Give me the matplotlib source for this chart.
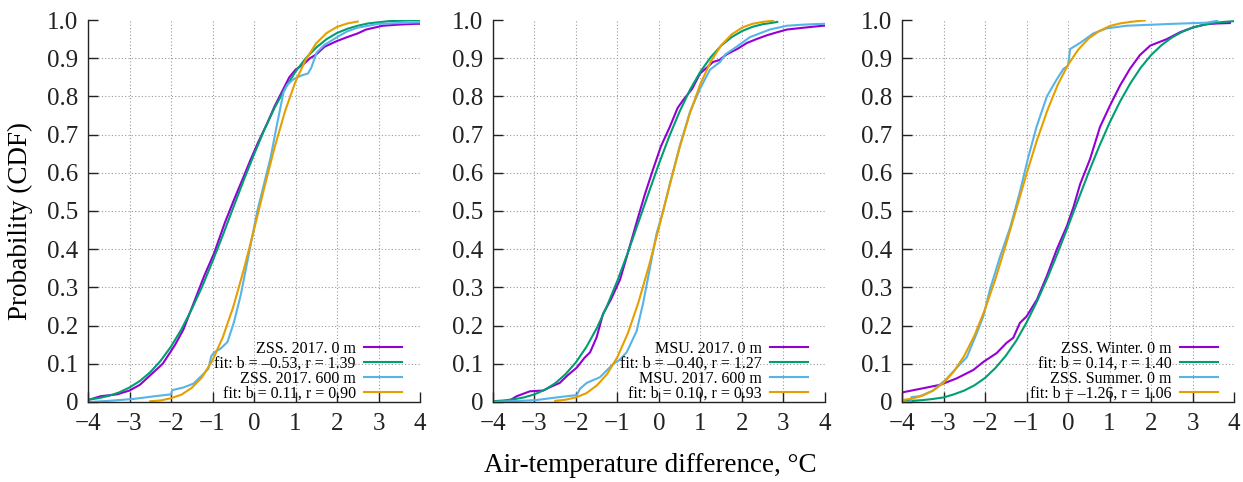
import matplotlib
matplotlib.use("Agg")
import matplotlib.pyplot as plt

plt.rcParams['font.family'] = ['Liberation Serif', 'DejaVu Serif']

# colours (gnuplot default palette)
c_purple = '#9400D3'
c_green = '#009E73'
c_blue = '#56B4E9'
c_orange = '#E69F00'

# ---------- panel 1: ZSS 2017 ----------
p1_obs0_x = [-4.0, -3.7, -3.3, -3.0, -2.75, -2.5, -2.2, -1.9, -1.7, -1.45, -1.2, -0.96, -0.7, -0.48,
             -0.25, -0.08, 0.1, 0.32, 0.5, 0.71, 0.85, 1.0, 1.2, 1.35, 1.5, 1.7, 2.0, 2.24, 2.5, 2.7,
             3.1, 3.5, 3.9, 4.0]
p1_obs0_y = [0.005, 0.015, 0.02, 0.03, 0.045, 0.07, 0.1, 0.15, 0.19, 0.26, 0.33, 0.39, 0.47, 0.53,
             0.59, 0.635, 0.68, 0.73, 0.775, 0.82, 0.85, 0.87, 0.885, 0.9, 0.91, 0.93, 0.945, 0.955,
             0.965, 0.975, 0.985, 0.988, 0.99, 0.99]
p1_fit0_x = [-4.0, -3.75, -3.5, -3.25, -3.0, -2.75, -2.5, -2.25, -2.0, -1.75, -1.5, -1.25, -1.0, -0.75,
             -0.5, -0.25, 0.0, 0.25, 0.5, 0.75, 1.0, 1.25, 1.5, 1.75, 2.0, 2.25, 2.5, 2.75, 3.0, 3.25,
             3.5, 3.75, 4.0]
p1_fit0_y = [0.006, 0.010, 0.016, 0.025, 0.038, 0.055, 0.078, 0.108, 0.145, 0.190, 0.243, 0.302, 0.368,
             0.437, 0.509, 0.580, 0.648, 0.713, 0.771, 0.821, 0.865, 0.900, 0.928, 0.950, 0.966, 0.977,
             0.985, 0.991, 0.994, 0.997, 0.998, 0.999, 0.999]
p1_obs6_x = [-4.0, -3.5, -2.9, -2.4, -2.0, -1.97, -1.7, -1.46, -1.25, -1.1, -1.03, -0.96, -0.8, -0.64,
             -0.48, -0.32, -0.12, 0.08, 0.24, 0.4, 0.56, 0.71, 0.8, 0.95, 1.15, 1.3, 1.38, 1.51, 1.7,
             2.0, 2.24, 2.5, 3.0, 3.5, 4.0]
p1_obs6_y = [0.0, 0.003, 0.008, 0.015, 0.02, 0.031, 0.038, 0.048, 0.07, 0.087, 0.12, 0.13, 0.14, 0.157,
             0.21, 0.28, 0.39, 0.5, 0.57, 0.64, 0.73, 0.81, 0.83, 0.845, 0.855, 0.86, 0.875, 0.915,
             0.935, 0.955, 0.97, 0.98, 0.99, 0.992, 0.994]
p1_fit6_x = [-2.5, -2.25, -2.0, -1.75, -1.5, -1.25, -1.0, -0.75, -0.5, -0.25, 0.0, 0.25, 0.5, 0.75,
             1.0, 1.25, 1.5, 1.75, 2.0, 2.25, 2.5]
p1_fit6_y = [0.002, 0.004, 0.010, 0.019, 0.037, 0.065, 0.109, 0.170, 0.249, 0.345, 0.451, 0.562,
             0.668, 0.762, 0.839, 0.897, 0.939, 0.966, 0.982, 0.991, 0.996]

# ---------- panel 2: MSU 2017 ----------
p2_obs0_x = [-3.66, -3.43, -3.11, -2.79, -2.6, -2.39, -2.2, -1.98, -1.8, -1.66, -1.5, -1.35, -1.15,
             -0.94, -0.75, -0.54, -0.35, -0.14, 0.05, 0.26, 0.45, 0.58, 0.8, 0.99, 1.15, 1.3, 1.45,
             1.63, 1.9, 2.12, 2.35, 2.6, 2.85, 3.08, 3.5, 3.95, 4.0]
p2_obs0_y = [0.0, 0.015, 0.028, 0.03, 0.04, 0.05, 0.07, 0.09, 0.115, 0.13, 0.17, 0.23, 0.27,
             0.32, 0.39, 0.47, 0.54, 0.61, 0.67, 0.72, 0.77, 0.79, 0.82, 0.86, 0.875, 0.89, 0.895,
             0.91, 0.925, 0.94, 0.95, 0.96, 0.968, 0.975, 0.98, 0.985, 0.985]
p2_fit0_x = [-4.0, -3.75, -3.5, -3.25, -3.0, -2.75, -2.5, -2.25, -2.0, -1.75, -1.5, -1.25, -1.0, -0.75,
             -0.5, -0.25, 0.0, 0.25, 0.5, 0.75, 1.0, 1.25, 1.5, 1.75, 2.0, 2.25, 2.5, 2.75, 2.85]
p2_fit0_y = [0.002, 0.004, 0.007, 0.012, 0.020, 0.032, 0.049, 0.073, 0.104, 0.144, 0.193, 0.252, 0.318,
             0.391, 0.469, 0.547, 0.624, 0.696, 0.761, 0.818, 0.865, 0.903, 0.933, 0.955, 0.971, 0.982,
             0.989, 0.993, 0.995]
p2_obs6_x = [-4.0, -2.96, -2.39, -1.98, -1.9, -1.74, -1.42, -1.1, -0.95, -0.78, -0.54, -0.38, -0.22,
             -0.06, 0.1, 0.26, 0.5, 0.75, 0.99, 1.23, 1.47, 1.6, 1.87, 2.19, 2.67, 3.08, 3.5, 3.95, 4.0]
p2_obs6_y = [0.0, 0.005, 0.013, 0.018, 0.035, 0.05, 0.065, 0.1, 0.11, 0.13, 0.185, 0.26, 0.35,
             0.44, 0.5, 0.57, 0.67, 0.76, 0.82, 0.87, 0.89, 0.91, 0.93, 0.955, 0.975, 0.985, 0.988,
             0.99, 0.99]
p2_fit6_x = [-2.5, -2.25, -2.0, -1.75, -1.5, -1.25, -1.0, -0.75, -0.5, -0.25, 0.0, 0.25, 0.5, 0.75,
             1.0, 1.25, 1.5, 1.75, 2.0, 2.25, 2.5, 2.75]
p2_fit6_y = [0.003, 0.006, 0.012, 0.023, 0.043, 0.073, 0.118, 0.180, 0.259, 0.353, 0.457, 0.564,
             0.667, 0.758, 0.833, 0.892, 0.934, 0.962, 0.980, 0.990, 0.995, 0.998]

# ---------- panel 3: ZSS winter / summer ----------
p3_obs0_x = [-4.0, -3.49, -3.08, -2.68, -2.28, -2.04, -1.72, -1.48, -1.32, -1.16, -1.0, -0.75, -0.51,
             -0.27, -0.03, 0.13, 0.29, 0.53, 0.77, 1.01, 1.25, 1.49, 1.73, 1.98, 2.38, 2.7, 3.02,
             3.34, 3.6, 3.9]
p3_obs0_y = [0.025, 0.036, 0.045, 0.062, 0.084, 0.105, 0.128, 0.155, 0.168, 0.207, 0.224, 0.268,
             0.33, 0.4, 0.46, 0.51, 0.57, 0.636, 0.72, 0.776, 0.828, 0.872, 0.908, 0.933, 0.95,
             0.968, 0.981, 0.989, 0.991, 0.992]
p3_fit0_x = [-4.0, -3.75, -3.5, -3.25, -3.0, -2.75, -2.5, -2.25, -2.0, -1.75, -1.5, -1.25, -1.0, -0.75,
             -0.5, -0.25, 0.0, 0.25, 0.5, 0.75, 1.0, 1.25, 1.5, 1.75, 2.0, 2.25, 2.5, 2.75, 3.0, 3.25,
             3.5, 3.75, 4.0]
p3_fit0_y = [0.002, 0.003, 0.005, 0.008, 0.012, 0.020, 0.030, 0.044, 0.063, 0.089, 0.121, 0.160, 0.208,
             0.263, 0.324, 0.390, 0.460, 0.531, 0.602, 0.669, 0.731, 0.786, 0.834, 0.875, 0.908, 0.934,
             0.954, 0.969, 0.980, 0.987, 0.992, 0.995, 0.997]
p3_obsS_x = [-4.0, -3.8, -3.77, -3.57, -3.25, -2.93, -2.68, -2.44, -2.2, -2.04, -1.88, -1.64, -1.4,
             -1.16, -0.96, -0.76, -0.51, -0.27, -0.11, 0.0, 0.05, 0.29, 0.61, 0.93, 1.41, 2.53, 3.34,
             3.6]
p3_obsS_y = [0.0, 0.0, 0.013, 0.015, 0.03, 0.06, 0.09, 0.117, 0.18, 0.225, 0.295, 0.38, 0.455,
             0.55, 0.64, 0.72, 0.8, 0.845, 0.872, 0.88, 0.924, 0.94, 0.965, 0.978, 0.985, 0.99, 0.993,
             0.998]
p3_fitS_x = [-4.0, -3.75, -3.5, -3.25, -3.0, -2.75, -2.5, -2.25, -2.0, -1.75, -1.5, -1.25, -1.0, -0.75,
             -0.5, -0.25, 0.0, 0.25, 0.5, 0.75, 1.0, 1.25, 1.5, 1.75, 1.85]
p3_fitS_y = [0.005, 0.009, 0.017, 0.030, 0.050, 0.080, 0.121, 0.175, 0.243, 0.322, 0.411, 0.504, 0.597,
             0.685, 0.763, 0.830, 0.883, 0.923, 0.952, 0.971, 0.984, 0.991, 0.995, 0.998, 0.999]

labels1 = ['ZSS. 2017. 0 m', 'fit: b = \u20130.53, r = 1.39', 'ZSS. 2017. 600 m', 'fit: b = 0.11, r = 0.90']
labels2 = ['MSU. 2017. 0 m', 'fit: b = \u20130.40, r = 1.27', 'MSU. 2017. 600 m', 'fit: b = 0.10, r = 0.93']
labels3 = ['ZSS. Winter. 0 m', 'fit: b = 0.14, r = 1.40', 'ZSS. Summer. 0 m', 'fit: b = \u20131.26, r = 1.06']

xticks = [-4, -3, -2, -1, 0, 1, 2, 3, 4]
xticklabels = ['\u22124', '\u22123', '\u22122', '\u22121', '0', '1', '2', '3', '4']
yticks = [0, 0.1, 0.2, 0.3, 0.4, 0.5, 0.6, 0.7, 0.8, 0.9, 1.0]
yticklabels = ['0', '0.1', '0.2', '0.3', '0.4', '0.5', '0.6', '0.7', '0.8', '0.9', '1.0']

panels = [
    (p1_obs0_x, p1_obs0_y, p1_fit0_x, p1_fit0_y, p1_obs6_x, p1_obs6_y, p1_fit6_x, p1_fit6_y, labels1),
    (p2_obs0_x, p2_obs0_y, p2_fit0_x, p2_fit0_y, p2_obs6_x, p2_obs6_y, p2_fit6_x, p2_fit6_y, labels2),
    (p3_obs0_x, p3_obs0_y, p3_fit0_x, p3_fit0_y, p3_obsS_x, p3_obsS_y, p3_fitS_x, p3_fitS_y, labels3),
]

fig = plt.figure(figsize=(12.43, 4.82), dpi=100)
lefts = [0.0708, 0.3966, 0.7257]
legend_x = [0.946, 0.949, 0.952]

for i, p in enumerate(panels):
    ax = fig.add_axes([lefts[i], 0.166, 0.2671, 0.7925])
    lw = 1.5
    ax.plot(p[0], p[1], color=c_purple, lw=lw, label=p[8][0])
    ax.plot(p[2], p[3], color=c_green, lw=lw, label=p[8][1])
    ax.plot(p[4], p[5], color=c_blue, lw=lw, label=p[8][2])
    ax.plot(p[6], p[7], color=c_orange, lw=lw, label=p[8][3])

    ax.set_xlim(-4, 4)
    ax.set_ylim(0, 1)
    ax.set_xticks(xticks)
    ax.set_xticklabels(xticklabels)
    ax.set_yticks(yticks)
    ax.set_yticklabels(yticklabels)
    ax.tick_params(direction='in', length=7, width=1, labelsize=18, colors='#222222')
    ax.tick_params(axis='x', pad=8)
    ax.tick_params(axis='y', pad=7)
    ax.spines['top'].set_visible(False)
    ax.spines['right'].set_visible(False)
    for s in ['left', 'bottom']:
        ax.spines[s].set_color('#222222')
        ax.spines[s].set_linewidth(1.0)

    ax.grid(True, linestyle=(0, (1, 2)), color='#999999', linewidth=0.8)
    # no gridlines on the frame edges
    gx = ax.get_xgridlines()
    gx[0].set_visible(False)
    gx[-1].set_visible(False)
    gy = ax.get_ygridlines()
    gy[0].set_visible(False)
    gy[-1].set_visible(False)
    ax.set_axisbelow(True)

    ax.legend(loc='lower right', bbox_to_anchor=(legend_x[i], 0.0), frameon=False,
              markerfirst=False, fontsize=11.5, handlelength=2.4, handletextpad=0.5,
              labelspacing=-0.06, borderpad=0, borderaxespad=0)

    if i == 0:
        ax.set_ylabel('Probability (CDF)', fontsize=19.5)
        ax.yaxis.set_label_coords(-0.165, 0.474)

fig.text(0.523, 0.035, 'Air-temperature difference, \u00b0C', ha='center', va='center', fontsize=19.5)

fig.savefig('out.png', dpi=100)
